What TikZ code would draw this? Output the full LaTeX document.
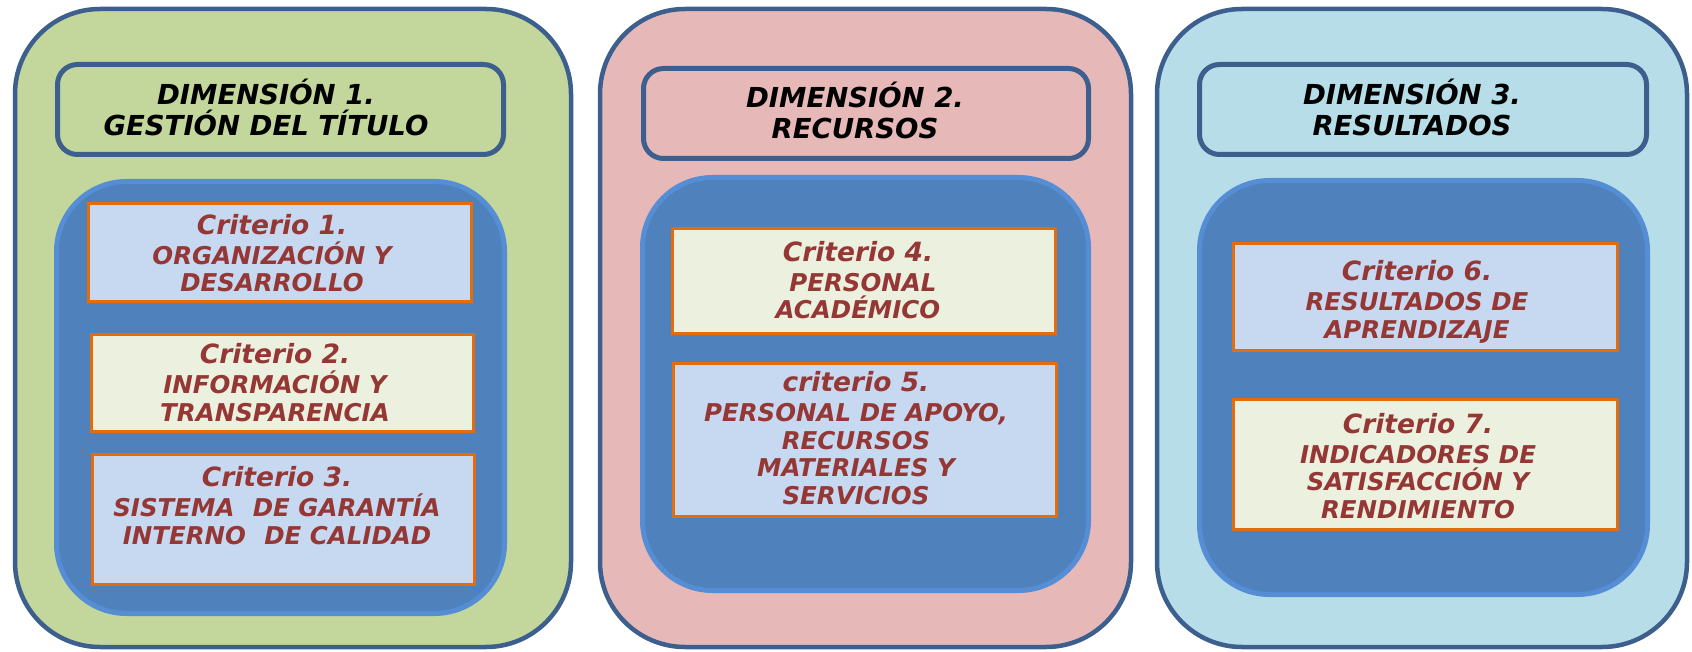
\documentclass[tikz,border=0pt]{standalone}
\usepackage{fontspec}
\setmainfont{DejaVu Sans}
\definecolor{pGreen}{HTML}{C3D69B}
\definecolor{pPink}{HTML}{E6B9B8}
\definecolor{pBlue}{HTML}{B7DDE8}
\definecolor{pBorder}{HTML}{3C5F8D}
\definecolor{inFill}{HTML}{4F81BD}
\definecolor{inBorder}{HTML}{558ED5}
\definecolor{cBlue}{HTML}{C6D9F1}
\definecolor{cCream}{HTML}{EBF1DE}
\definecolor{cBorder}{HTML}{E46C0A}
\definecolor{cText}{HTML}{953735}
\tikzset{
  panel/.style={draw=pBorder, line width=4.5pt, rounded corners=85pt, inner sep=0pt},
  headbox/.style={draw=pBorder, line width=5pt, rounded corners=20pt, inner sep=0pt},
  innerbox/.style={draw=inBorder, fill=inFill, line width=5pt, rounded corners=70pt, inner sep=0pt},
  critbox/.style={draw=cBorder, line width=2.5pt, inner sep=0pt},
  headtext/.style={font=\fontsize{27.5}{31}\selectfont\bfseries\itshape, text=black, align=center, anchor=base, inner sep=0pt},
  crittext/.style={font=\fontsize{24.5}{27.5}\selectfont\bfseries\itshape, text=cText, align=center, anchor=base, inner sep=0pt},
}
\newcommand{\crit}[1]{{\fontsize{26.5}{27.5}\selectfont #1}\\[2.5pt]}
\begin{document}
\begin{tikzpicture}[x=1pt, y=-1pt]
\useasboundingbox[fill=white] (0,0) rectangle (1692,652);
% panels
\node[panel, fill=pGreen, minimum width=556pt, minimum height=638pt] (p1) at (293,328) {};
\node[panel, fill=pPink,  minimum width=531pt, minimum height=638pt] (p2) at (865.5,328) {};
\node[panel, fill=pBlue,  minimum width=530pt, minimum height=638pt] (p3) at (1422,328) {};
% headers
\node[headbox, minimum width=446pt, minimum height=90pt] (h1) at (280.5,109.5) {};
\node[headbox, minimum width=445pt, minimum height=90pt] (h2) at (866,113.5) {};
\node[headbox, minimum width=447pt, minimum height=90pt] (h3) at (1423,109.5) {};
\node[headtext] (h1t) at (266,136) {DIMENSIÓN 1.\\GESTIÓN DEL TÍTULO};
\node[headtext] (h2t) at (855,139) {DIMENSIÓN 2.\\RECURSOS};
\node[headtext] (h3t) at (1412,136) {DIMENSIÓN 3.\\RESULTADOS};
% inner blue
\node[innerbox, minimum width=448pt, minimum height=432pt] (i1) at (280.5,397.5) {};
\node[innerbox, minimum width=446pt, minimum height=413pt] (i2) at (865.5,384) {};
\node[innerbox, minimum width=448pt, minimum height=414pt] (i3) at (1423.5,387.5) {};
% criteria boxes
\node[critbox, fill=cBlue,  minimum width=383pt, minimum height=98pt]  (c1) at (280,252.5) {};
\node[critbox, fill=cCream, minimum width=382pt, minimum height=97pt]  (c2) at (282.5,383) {};
\node[critbox, fill=cBlue,  minimum width=382pt, minimum height=130pt] (c3) at (283.5,519.5) {};
\node[critbox, fill=cCream, minimum width=383pt, minimum height=105pt] (c4) at (864,281) {};
\node[critbox, fill=cBlue,  minimum width=383pt, minimum height=153pt] (c5) at (865,440) {};
\node[critbox, fill=cBlue,  minimum width=384pt, minimum height=107pt] (c6) at (1425.5,297) {};
\node[critbox, fill=cCream, minimum width=384pt, minimum height=130pt] (c7) at (1425.5,464.5) {};
% criteria text
\node[crittext] (c1t) at (272,292) {\crit{Criterio 1.}ORGANIZACIÓN Y\\DESARROLLO};
\node[crittext] (c2t) at (275,421) {\crit{Criterio 2.}INFORMACIÓN Y\\TRANSPARENCIA};
\node[crittext] (c3t) at (277,544) {\crit{Criterio 3.}SISTEMA\hspace{0.4em} DE GARANTÍA\\INTERNO\hspace{0.4em} DE CALIDAD};
\node[crittext] (c4t) at (858,319) {\crit{Criterio 4.}\hspace{0.4em}PERSONAL\\ACADÉMICO};
\node[crittext] (c5t) at (856,504) {\crit{criterio 5.}PERSONAL DE APOYO,\\RECURSOS\\MATERIALES Y\\SERVICIOS};
\node[crittext] (c6t) at (1417,338) {\crit{Criterio 6.}RESULTADOS DE\\APRENDIZAJE};
\node[crittext] (c7t) at (1418,518) {\crit{Criterio 7.}INDICADORES DE\\SATISFACCIÓN Y\\RENDIMIENTO};
\end{tikzpicture}
\end{document}
